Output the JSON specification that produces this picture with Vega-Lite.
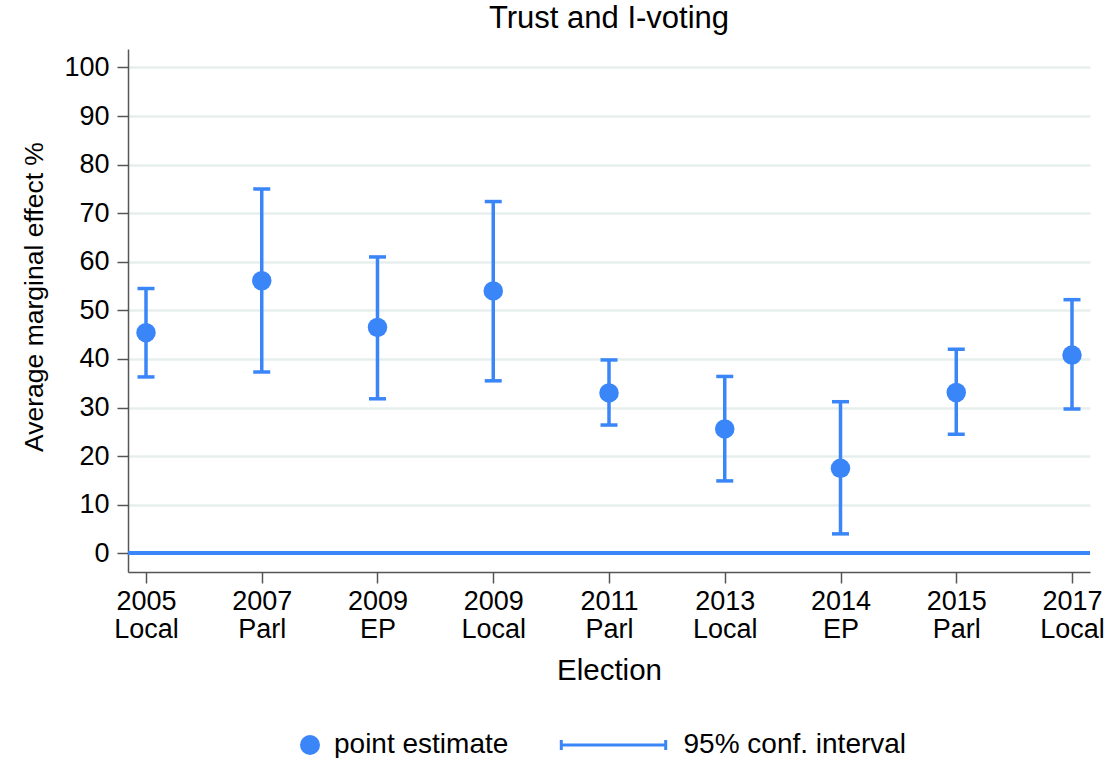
{
  "$schema": "https://vega.github.io/schema/vega-lite/v6.json",
  "autosize": {"type": "none"},
  "width": 962,
  "height": 523,
  "padding": {"left": 128, "top": 49, "right": 19, "bottom": 186},
  "background": "white",
  "title": {"text": "Trust and I-voting", "fontSize": 31, "font": "Liberation Sans", "fontWeight": "normal", "color": "#000000", "baseline": "alphabetic", "offset": 17, "dy": 27, "anchor": "middle"},
  "config": {
    "view": {"stroke": null},
    "font": "Liberation Sans",
    "axis": {"labelFont": "Liberation Sans", "titleFont": "Liberation Sans", "labelColor": "#000000", "titleColor": "#000000", "titleFontWeight": "normal", "domainColor": "#555555", "domainWidth": 1.5, "tickColor": "#555555", "tickWidth": 1.5, "tickSize": 11},
    "legend": {"labelFont": "Liberation Sans", "labelColor": "#000000", "padding": 0}
  },
  "data": {
    "values": [
      {"election": "2005|Local", "est": 45.4, "lo": 36.3, "hi": 54.5},
      {"election": "2007|Parl", "est": 56.1, "lo": 37.3, "hi": 75.0},
      {"election": "2009|EP", "est": 46.5, "lo": 31.8, "hi": 61.0},
      {"election": "2009|Local", "est": 54.0, "lo": 35.5, "hi": 72.4},
      {"election": "2011|Parl", "est": 33.0, "lo": 26.4, "hi": 39.8},
      {"election": "2013|Local", "est": 25.6, "lo": 14.9, "hi": 36.4},
      {"election": "2014|EP", "est": 17.5, "lo": 4.0, "hi": 31.2},
      {"election": "2015|Parl", "est": 33.1, "lo": 24.5, "hi": 42.0},
      {"election": "2017|Local", "est": 40.8, "lo": 29.7, "hi": 52.2}
    ]
  },
  "encoding": {
    "x": {
      "field": "election", "type": "ordinal", "sort": null,
      "scale": {"type": "point", "padding": 0.1555},
      "axis": {"title": "Election", "labelAngle": 0, "labelExpr": "split(datum.label, '|')", "labelFontSize": 27, "labelLineHeight": 28, "labelPadding": 5, "titleFontSize": 29.5, "titleBaseline": "alphabetic", "titleY": 107, "grid": false}
    }
  },
  "layer": [
    {
      "mark": {"type": "rule", "color": "#3a86f9", "strokeWidth": 3.5},
      "encoding": {
        "y": {
          "datum": 0, "type": "quantitative",
          "scale": {"domain": [-3.85, 103.8], "nice": false, "zero": false},
          "axis": {"title": "Average marginal effect %", "values": [0, 10, 20, 30, 40, 50, 60, 70, 80, 90, 100], "labelFontSize": 27, "labelPadding": 8, "titleFontSize": 26.5, "titleBaseline": "alphabetic", "titleX": -86, "titleY": 247.5, "grid": true, "gridColor": "#e6efed", "gridWidth": 2.4}
        },
        "x": null
      }
    },
    {
      "mark": {"type": "rule", "strokeWidth": 3.5},
      "encoding": {
        "y": {"field": "lo", "type": "quantitative"},
        "y2": {"field": "hi"},
        "color": {"datum": "95% conf. interval", "type": "nominal", "scale": {"range": ["#3a86f9"]},
          "legend": {"title": null, "orient": "none", "legendX": 428, "legendY": 682, "symbolType": "M-5.8,0H5.8M-5.8,-0.55V0.55M5.8,-0.55V0.55", "symbolSize": 324, "symbolStrokeWidth": 3, "symbolOffset": 43.5, "labelOffset": 56, "labelFontSize": 28, "labelLimit": 400}}
      }
    },
    {
      "mark": {"type": "tick", "color": "#3a86f9", "size": 17, "thickness": 3.5, "opacity": 1},
      "encoding": {"y": {"field": "hi", "type": "quantitative"}}
    },
    {
      "mark": {"type": "tick", "color": "#3a86f9", "size": 17, "thickness": 3.5, "opacity": 1},
      "encoding": {"y": {"field": "lo", "type": "quantitative"}}
    },
    {
      "mark": {"type": "circle", "size": 380, "opacity": 1},
      "encoding": {
        "y": {"field": "est", "type": "quantitative"},
        "color": {"datum": "point estimate", "type": "nominal", "scale": {"range": ["#3a86f9"]},
          "legend": {"title": null, "orient": "none", "legendX": 168, "legendY": 682, "symbolType": "circle", "symbolSize": 400, "symbolStrokeWidth": 0, "symbolOpacity": 1, "labelOffset": 10, "labelFontSize": 28, "labelLimit": 400}}
      }
    }
  ],
  "resolve": {"scale": {"color": "independent"}}
}
